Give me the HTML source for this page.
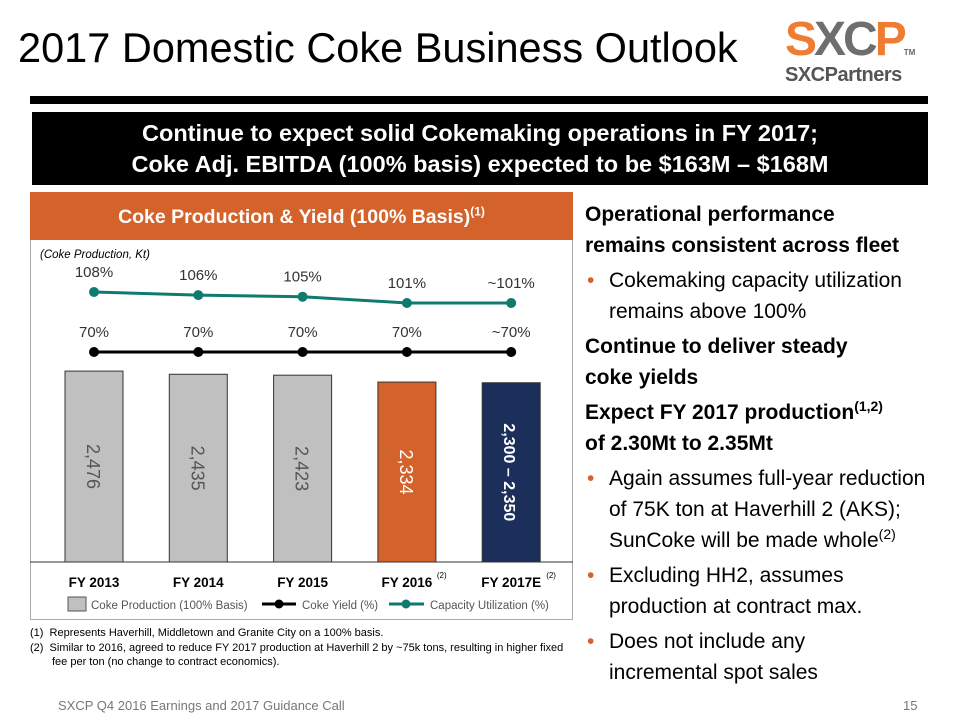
<!DOCTYPE html>
<html><head><meta charset="utf-8"><style>
body{margin:0;width:960px;height:720px;background:#fff;font-family:"Liberation Sans",sans-serif;position:relative;overflow:hidden}
.a{position:absolute}
.rt{font-size:21px;line-height:31px;color:#000}
.rt>div+div{margin-top:4px}
.rt b{font-weight:bold}
.rt sup,.hd sup{line-height:0;font-size:14px}
.bl{position:relative;padding-left:24px;white-space:nowrap}
.bl:before{content:"•";color:#d4622b;position:absolute;left:2px}
</style></head><body>
<div class="a" style="left:18px;top:24px;font-size:41.5px;color:#000">2017 Domestic Coke Business Outlook</div>
<div class="a" style="left:785px;top:16px;width:150px;height:70px">
<div style="position:absolute;top:0;left:0;white-space:nowrap;font-size:48px;font-weight:bold;line-height:48px;letter-spacing:-3px"><span style="color:#ef7c31">S</span><span style="color:#6e6e6e">X</span><span style="color:#6e6e6e">C</span><span style="color:#ef7c31">P</span><span style="font-size:8px;color:#666;letter-spacing:0">TM</span></div>
<div style="position:absolute;top:48px;left:0;white-space:nowrap;font-size:20px;font-weight:bold;color:#555;letter-spacing:-0.5px">SXCPartners</div></div>
<div class="a" style="left:30px;top:96px;width:898px;height:8px;background:#000"></div>
<div class="a" style="left:32px;top:112px;width:896px;height:73px;background:#000;color:#fff;font-weight:bold;font-size:23.5px;text-align:center;line-height:31px;padding-top:6px;box-sizing:border-box">Continue to expect solid Cokemaking operations in FY 2017;<br>Coke Adj. EBITDA (100% basis) expected to be $163M – $168M</div>
<div class="a" style="left:30px;top:192px;width:543px;height:428px;border:1px solid #aaa;box-sizing:border-box"></div>
<div class="a hd" style="left:30px;top:192px;width:543px;height:48px;background:#d4622b;color:#fff;font-weight:bold;font-size:19.5px;text-align:center;line-height:50px">Coke Production &amp; Yield (100% Basis)<sup style="font-size:12px">(1)</sup></div>
<svg class="a" id="chart" style="left:0;top:0" width="580" height="630"></svg>
<div class="a" style="left:30px;top:626px;font-size:11px;line-height:14.5px;color:#000;width:545px">
<div>(1)&nbsp; Represents Haverhill, Middletown and Granite City on a 100% basis.</div>
<div style="padding-left:22px;text-indent:-22px">(2)&nbsp; Similar to 2016, agreed to reduce FY 2017 production at Haverhill 2 by ~75k tons, resulting in higher fixed fee per ton (no change to contract economics).</div></div>
<div class="a rt" style="left:585px;top:199px;width:370px">
<div><b>Operational performance<br>remains consistent across fleet</b></div>
<div class="bl">Cokemaking capacity utilization<br>remains above 100%</div>
<div><b>Continue to deliver steady<br>coke yields</b></div>
<div><b>Expect FY 2017 production<sup>(1,2)</sup><br>of 2.30Mt to 2.35Mt</b></div>
<div class="bl">Again assumes full-year reduction<br>of 75K ton at Haverhill 2 (AKS);<br>SunCoke will be made whole<sup>(2)</sup></div>
<div class="bl">Excluding HH2, assumes<br>production at contract max.</div>
<div class="bl">Does not include any<br>incremental spot sales</div></div>
<div class="a" style="left:58px;top:698px;font-size:13px;color:#777">SXCP Q4 2016 Earnings and 2017 Guidance Call</div>
<div class="a" style="left:903px;top:698px;font-size:13px;color:#777">15</div>
<script>
const categories=["FY 2013","FY 2014","FY 2015","FY 2016","FY 2017E"];
const production=[2476,2435,2423,2334,2325];
const productionLabels=["2,476","2,435","2,423","2,334","2,300 – 2,350"];
const yieldVals=[70,70,70,70,70];
const yieldLabels=["70%","70%","70%","70%","~70%"];
const capUtil=[108,106,105,101,101];
const capLabels=["108%","106%","105%","101%","~101%"];
const svg=document.getElementById('chart');const NS="http://www.w3.org/2000/svg";
function mk(t,a,txt){const e=document.createElementNS(NS,t);for(const k in a)e.setAttribute(k,a[k]);if(txt!=null)e.textContent=txt;svg.appendChild(e);return e;}
const xPos=i=>94+i*104.3;
const yBar=v=>562-v*0.0771;
const yCap=v=>292+(108-v)*1.57;
const yYield=v=>352+(70-v)*1.57;
const fills=["#c0c0c0","#c0c0c0","#c0c0c0","#d4622b","#1c2f5a"];
const tcol=["#555","#555","#555","#fff","#fff"];
let t=mk('text',{x:40,y:258,'font-size':11.5,'font-style':'italic',fill:'#000'},'(Coke Production, Kt)');

categories.forEach((c,i)=>{
 const x=xPos(i),top=yBar(production[i]);
 const r=mk('rect',{x:x-29,y:top,width:58,height:562-top,fill:fills[i],stroke:'#333','stroke-width':1});
 
 
 const cy=(top+562)/2;
 const l=mk('text',{x:x,y:cy+7,'font-size':i==4?16:18,'font-weight':i==4?'bold':'normal',fill:tcol[i],'text-anchor':'middle',transform:`rotate(90 ${x} ${cy})`},productionLabels[i]);
 
 
 const xl=mk('text',{x:x,y:587,'font-size':13.5,'font-weight':'bold',fill:'#000','text-anchor':'middle'},c);
 
 
 if(i>=3){const s=mk('text',{x:x+(i==3?30:35),y:578,'font-size':8,fill:'#000'},'(2)');}
});
const base=mk('line',{x1:30,x2:573,y1:562,y2:562,stroke:'#333','stroke-width':1});

function series(vals,labels,yf,col,name){
 const p=mk('polyline',{points:vals.map((v,i)=>xPos(i)+','+yf(v)).join(' '),fill:'none',stroke:col,'stroke-width':3});
 
 vals.forEach((v,i)=>{
  const c=mk('circle',{cx:xPos(i),cy:yf(v),r:5,fill:col});
  
  const l=mk('text',{x:xPos(i),y:yf(v)-15,'font-size':15,fill:'#333','text-anchor':'middle'},labels[i]);
  
 });
}
series(capUtil,capLabels,yCap,'#0f7a6e','capacity-utilization');
series(yieldVals,yieldLabels,yYield,'#000','coke-yield');
let g=mk('rect',{x:68,y:597,width:18,height:14,fill:'#c0c0c0',stroke:'#555'});
g=mk('text',{x:91,y:609,'font-size':11.5,fill:'#555'},'Coke Production (100% Basis)');
g=mk('line',{x1:262,x2:296,y1:604,y2:604,stroke:'#000','stroke-width':3});
g=mk('circle',{cx:279,cy:604,r:4.5,fill:'#000'});
g=mk('text',{x:302,y:609,'font-size':11.5,fill:'#555'},'Coke Yield (%)');
g=mk('line',{x1:389,x2:424,y1:604,y2:604,stroke:'#0f7a6e','stroke-width':3});
g=mk('circle',{cx:406,cy:604,r:4.5,fill:'#0f7a6e'});
g=mk('text',{x:430,y:609,'font-size':11.5,fill:'#555'},'Capacity Utilization (%)');
</script>
</body></html>
